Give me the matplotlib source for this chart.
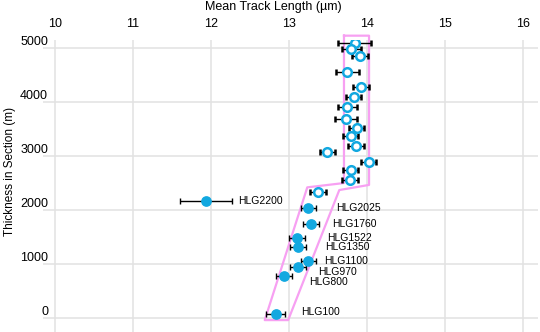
import matplotlib.pyplot as plt
from matplotlib.transforms import ScaledTranslation

plt.rcParams['font.family'] = ['Liberation Sans', 'DejaVu Sans']

# open symbols (upper part of the section)
open_len = [13.84, 13.80, 13.91, 13.75, 13.92, 13.83, 13.75, 13.73, 13.87, 13.79,
            13.86, 13.49, 14.02, 13.79, 13.78, 13.37]
open_err = [0.21, 0.125, 0.10, 0.15, 0.10, 0.095, 0.125, 0.14, 0.095, 0.10,
            0.10, 0.095, 0.095, 0.10, 0.10, 0.10]
open_depth = [5080, 4970, 4840, 4550, 4280, 4085, 3895, 3680, 3520, 3365,
              3180, 3065, 2880, 2740, 2550, 2325]

# labelled samples
samples = ["HLG2200", "HLG2025", "HLG1760", "HLG1522", "HLG1350",
           "HLG1100", "HLG970", "HLG800", "HLG100"]
fill_len = [11.94, 13.25, 13.28, 13.10, 13.12, 13.25, 13.12, 12.94, 12.83]
fill_err = [0.33, 0.095, 0.10, 0.10, 0.10, 0.10, 0.10, 0.10, 0.125]
fill_depth = [2170, 2030, 1740, 1485, 1320, 1060, 935, 775, 75]
label_offsets = [(23, 0), (20, 0), (15, 0), (22, 0), (19, -0.5),
                 (11, 0), (14, -3), (18, -4), (18, 1)]

# pink envelope outline
env_len = [13.705, 14.026, 14.026, 13.645, 12.99, 12.69, 13.235, 13.705, 13.705]
env_depth = [5220, 5220, 2460, 2365, -40, -40, 2415, 2495, 5220]

xticks = [10, 11, 12, 13, 14, 15, 16]
yticks = [0, 1000, 2000, 3000, 4000, 5000]

blue = '#12a8e0'

fig = plt.figure(figsize=(5.4, 3.32), dpi=100)
ax = fig.add_axes([43 / 540, 0, 495 / 540, 292 / 332])

ax.plot(env_len, env_depth, color='#f7a0f2', lw=1.6, clip_on=False, zorder=2)

ax.errorbar(open_len, open_depth, xerr=open_err, fmt='o', color='black',
            ecolor='black', elinewidth=1, capsize=2.5, capthick=1,
            mfc='white', mec=blue, mew=1.8, ms=6.2, zorder=3)
ax.errorbar(fill_len, fill_depth, xerr=fill_err, fmt='o', color='black',
            ecolor='black', elinewidth=1, capsize=2.5, capthick=1,
            mfc=blue, mec=blue, ms=6.7, zorder=3)

for name, x, y, off in zip(samples, fill_len, fill_depth, label_offsets):
    ax.annotate(name, (x, y), xytext=off, textcoords='offset points',
                fontsize=7.5, va='center', ha='left')

ax.set_xlim(9.85, 16.19)
ax.set_ylim(-260, 5140)
ax.set_xticks(xticks)
ax.set_yticks(yticks)
ax.xaxis.tick_top()
ax.tick_params(axis='both', length=0, labelsize=9)
ax.tick_params(axis='x', pad=7.5)
ax.tick_params(axis='y', pad=-3.6)
ax.grid(True, color='#e2e2e2', lw=1.1)
ax.set_axisbelow(True)
for s in ax.spines.values():
    s.set_visible(False)

shift = ScaledTranslation(0, 0.07, fig.dpi_scale_trans)
for lab in ax.get_yticklabels():
    lab.set_transform(lab.get_transform() + shift)

fig.text(10 / 540, 1 - 171 / 332, "Thickness in Section (m)", fontsize=8.5,
         rotation=90, ha='center', va='center')
fig.text(273.5 / 540, 1 - 7 / 332, "Mean Track Length (µm)", fontsize=9,
         ha='center', va='center')

fig.savefig("out.png", dpi=100)
